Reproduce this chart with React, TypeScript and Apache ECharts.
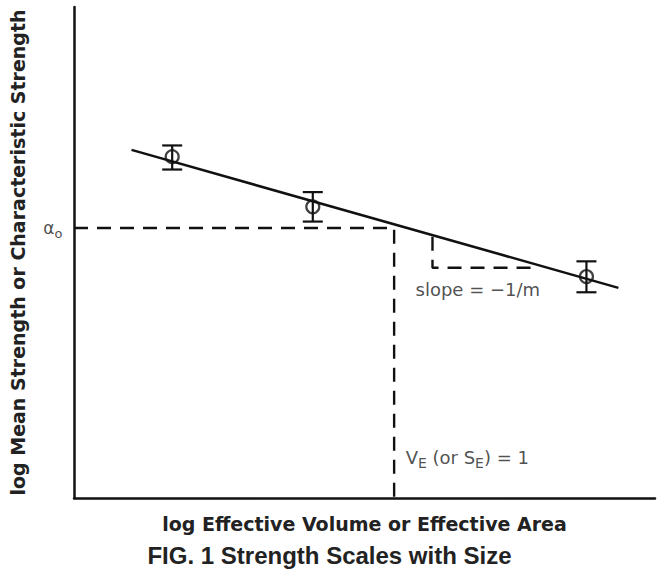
import React, { useEffect, useRef } from "react";
import * as echarts from "echarts";

// Fitted line endpoints (log volume, log strength), arbitrary units 0..100
const fitX = [9.9, 93.7];
const fitY = [70.9, 42.8];

// Measured points with error bars
const ptX = [16.9, 41.1, 88.2];
const ptY = [69.5, 59.3, 45.1];
const errHigh = [71.8, 62.3, 48.2];
const errLow = [66.9, 56.3, 41.9];

// Reference values
const alpha0 = 55.0;
const unitVolumeX = 55.1;

// Slope triangle
const triX = [61.7, 61.7, 79.6];
const triY = [53.2, 46.9, 46.9];

const xAxisName = "log Effective Volume or Effective Area";
const yAxisName = "log Mean Strength or Characteristic Strength";
const figTitle = "FIG. 1 Strength Scales with Size";

const INK = "#111";

export default function App() {
  const ref = useRef<HTMLDivElement>(null);
  useEffect(() => {
    document.body.style.margin = "0";
    const chart = echarts.init(ref.current!, null, { renderer: "svg" });
    const dash = [14, 9];
    const labelItem = { color: "rgba(0,0,0,0)", borderWidth: 0 };
    chart.setOption({
      animation: false,
      backgroundColor: "#fff",
      title: {
        text: figTitle,
        left: "center",
        top: 543,
        padding: 0,
        textStyle: {
          fontFamily: "Liberation Sans",
          fontWeight: "bold",
          fontSize: 24,
          color: "#222",
        },
      },
      grid: { left: 74, right: 4, top: 7, bottom: 77 },
      xAxis: {
        type: "value",
        min: 0,
        max: 100,
        name: xAxisName,
        nameLocation: "middle",
        nameGap: 16,
        nameTextStyle: {
          fontFamily: "DejaVu Sans",
          fontWeight: "bold",
          fontSize: 19,
          color: "#222",
        },
        axisLine: { show: true, lineStyle: { color: INK, width: 2.5 } },
        axisTick: { show: false },
        axisLabel: { show: false },
        splitLine: { show: false },
      },
      yAxis: {
        type: "value",
        min: 0,
        max: 100,
        name: yAxisName,
        nameLocation: "middle",
        nameGap: 47,
        nameTextStyle: {
          fontFamily: "DejaVu Sans",
          fontWeight: "bold",
          fontSize: 19,
          color: "#222",
        },
        axisLine: { show: true, lineStyle: { color: INK, width: 2.5 } },
        axisTick: { show: false },
        axisLabel: { show: false },
        splitLine: { show: false },
      },
      series: [
        {
          type: "line",
          data: [
            [0, alpha0],
            [unitVolumeX, alpha0],
            [unitVolumeX, 0],
          ],
          symbol: "none",
          lineStyle: { color: INK, width: 2.4, type: dash },
          z: 1,
        },
        {
          type: "line",
          data: triX.map((x, i) => [x, triY[i]]),
          symbol: "none",
          lineStyle: { color: INK, width: 2.4, type: dash },
          z: 1,
        },
        {
          type: "line",
          data: fitX.map((x, i) => [x, fitY[i]]),
          symbol: "none",
          lineStyle: { color: INK, width: 2.5 },
          z: 2,
        },
        {
          type: "custom",
          data: ptX.map((x, i) => [x, errLow[i], errHigh[i]]),
          renderItem: (params: any, api: any) => {
            const lo = api.coord([api.value(0), api.value(1)]);
            const hi = api.coord([api.value(0), api.value(2)]);
            const hw = 10;
            const style = { stroke: INK, lineWidth: 2.2 };
            return {
              type: "group",
              children: [
                { type: "line", shape: { x1: lo[0], y1: lo[1], x2: hi[0], y2: hi[1] }, style },
                { type: "line", shape: { x1: lo[0] - hw, y1: lo[1], x2: lo[0] + hw, y2: lo[1] }, style },
                { type: "line", shape: { x1: hi[0] - hw, y1: hi[1], x2: hi[0] + hw, y2: hi[1] }, style },
              ],
            };
          },
          z: 3,
        },
        {
          type: "scatter",
          data: ptX.map((x, i) => [x, ptY[i]]),
          symbol: "circle",
          symbolSize: 13,
          itemStyle: { color: "rgba(0,0,0,0)", borderColor: INK, borderWidth: 2.2 },
          z: 4,
        },
        {
          type: "scatter",
          symbol: "circle",
          symbolSize: 1,
          silent: true,
          itemStyle: labelItem,
          data: [
            {
              value: [0, alpha0],
              label: {
                show: true,
                position: "left",
                distance: 11,
                formatter: "{a|α}{s|o}",
                rich: {
                  a: { fontFamily: "DejaVu Sans", fontSize: 17, color: "#222" },
                  s: { fontFamily: "DejaVu Sans", fontSize: 13, color: "#222", padding: [11, 0, 0, 0] },
                },
              },
            },
            {
              value: [58.7, 42.4],
              label: {
                show: true,
                position: "right",
                distance: 0,
                formatter: "slope = −1/m",
                fontFamily: "DejaVu Sans",
                fontSize: 18,
                color: "#222",
              },
            },
            {
              value: [57.0, 8.2],
              label: {
                show: true,
                position: "right",
                distance: 0,
                formatter: "{t|V}{s|E}{t| (or S}{s|E}{t|) = 1}",
                rich: {
                  t: { fontFamily: "DejaVu Sans", fontSize: 18, color: "#222" },
                  s: { fontFamily: "DejaVu Sans", fontSize: 14, color: "#222", padding: [11, 0, 0, 0] },
                },
              },
            },
          ],
          z: 5,
        },
      ],
    });
    return () => chart.dispose();
  }, []);
  return <div ref={ref} style={{ width: 659, height: 575 }} />;
}
